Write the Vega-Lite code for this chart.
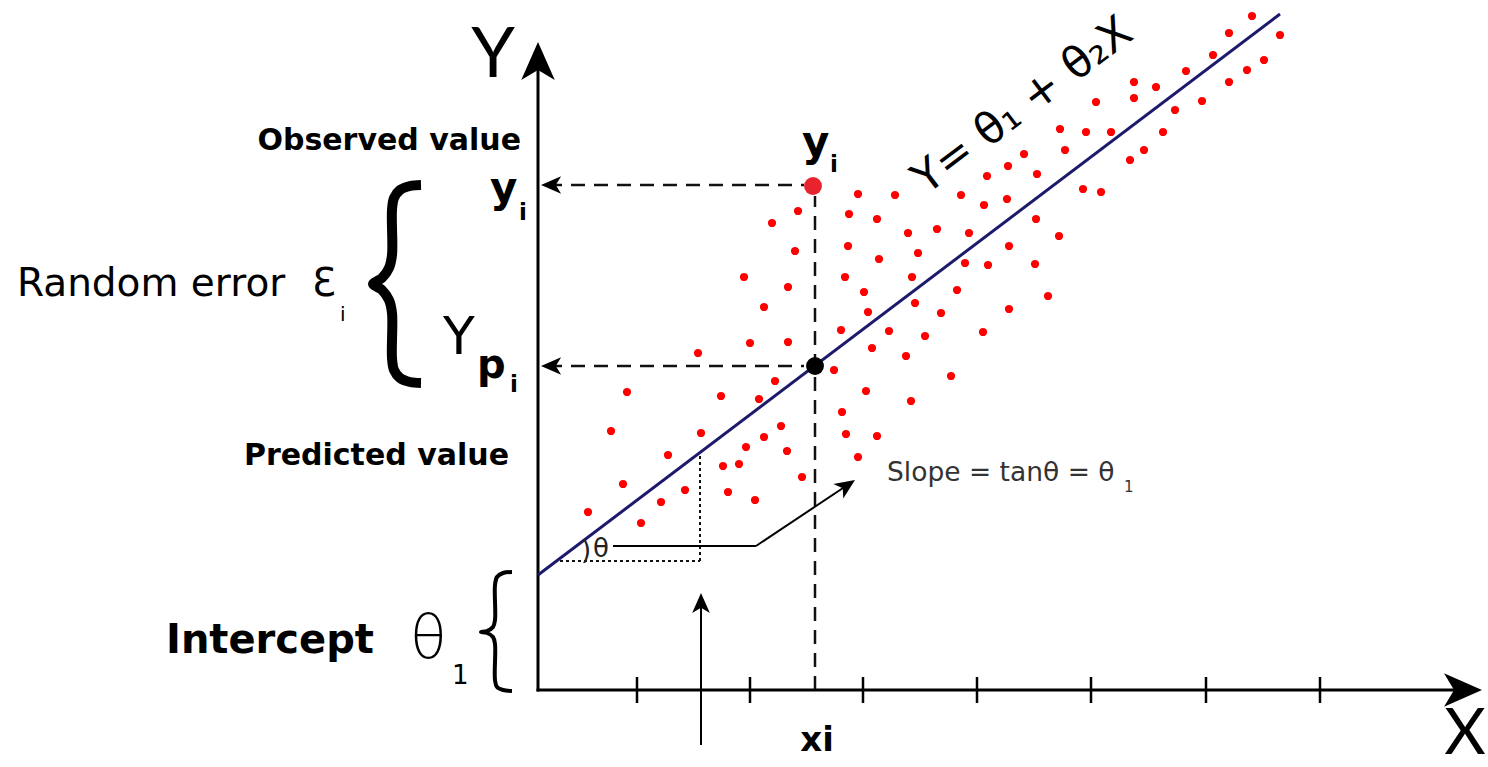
{
  "$schema": "https://vega.github.io/schema/vega-lite/v6.json",
  "width": 1488,
  "height": 767,
  "autosize": {"type": "none"},
  "padding": 0,
  "background": "white",
  "config": {"view": {"stroke": null}},
  "datasets": {
    "dots": [
      {"x":320,"y":496},{"x":357,"y":495},{"x":260,"y":479},{"x":311,"y":476},{"x":339,"y":471},{"x":234,"y":467},{"x":257,"y":439},{"x":310,"y":444},{"x":341,"y":431},{"x":206,"y":413},
      {"x":250,"y":403},{"x":307,"y":413},{"x":326,"y":398},{"x":226,"y":383},{"x":330,"y":378},{"x":303,"y":360},{"x":351,"y":359},{"x":212,"y":347},{"x":250,"y":348},{"x":334,"y":342},
      {"x":160,"y":337},{"x":296,"y":320},{"x":237,"y":309},{"x":89,"y":298},{"x":183,"y":294},{"x":221,"y":291},{"x":328,"y":299},{"x":304,"y":278},{"x":73,"y":259},{"x":163,"y":257},
      {"x":243,"y":264},{"x":308,"y":256},{"x":339,"y":254},{"x":226,"y":253},{"x":208,"y":243},{"x":130,"y":235},{"x":249,"y":239},{"x":320,"y":233},{"x":185,"y":224},{"x":201,"y":226},
      {"x":85,"y":206},{"x":147,"y":200},{"x":264,"y":213},{"x":190,"y":198},{"x":217,"y":190},{"x":50,"y":178},{"x":123,"y":188},{"x":103,"y":167},
      {"x":714,"y":674},{"x":691,"y":657},{"x":742,"y":655},{"x":675,"y":635},{"x":726,"y":630},{"x":709,"y":620},{"x":648,"y":619},{"x":596,"y":608},{"x":618,"y":603},{"x":691,"y":608},
      {"x":596,"y":592},{"x":558,"y":588},{"x":664,"y":589},{"x":637,"y":580},{"x":522,"y":561},{"x":548,"y":558},{"x":573,"y":558},{"x":625,"y":558},{"x":527,"y":540},{"x":606,"y":540},
      {"x":592,"y":530},{"x":545,"y":501},{"x":563,"y":498},{"x":486,"y":536},{"x":470,"y":524},{"x":449,"y":514},{"x":499,"y":516},{"x":423,"y":495},{"x":446,"y":485},{"x":469,"y":491},
      {"x":498,"y":471},{"x":370,"y":457},{"x":399,"y":461},{"x":431,"y":457},{"x":521,"y":454},{"x":380,"y":437},{"x":471,"y":444},{"x":427,"y":427},{"x":450,"y":425},{"x":497,"y":426},
      {"x":374,"y":413},{"x":419,"y":400},{"x":510,"y":394},{"x":377,"y":387},{"x":403,"y":377},{"x":471,"y":381},{"x":387,"y":354},{"x":445,"y":358},{"x":368,"y":334},{"x":413,"y":314},
      {"x":373,"y":289}
    ],
    "keypts": [
      {"x":275,"y":504,"kind":"observed"},
      {"x":277,"y":324,"kind":"predicted"}
    ],
    "fit": [
      {"x":0,"y":115},{"x":742,"y":676}
    ],
    "segs": [
      {"x":0,"y":-1.5,"x2":0,"y2":625,"kind":"axis"},
      {"x":-1.5,"y":0,"x2":925,"y2":0,"kind":"axis"},
      {"x":99,"y":-13,"x2":99,"y2":13,"kind":"tick"},
      {"x":212,"y":-13,"x2":212,"y2":13,"kind":"tick"},
      {"x":325,"y":-13,"x2":325,"y2":13,"kind":"tick"},
      {"x":439,"y":-13,"x2":439,"y2":13,"kind":"tick"},
      {"x":553,"y":-13,"x2":553,"y2":13,"kind":"tick"},
      {"x":668,"y":-13,"x2":668,"y2":13,"kind":"tick"},
      {"x":782,"y":-13,"x2":782,"y2":13,"kind":"tick"},
      {"x":163,"y":-55,"x2":163,"y2":85,"kind":"arrow"},
      {"x":10,"y":505,"x2":266,"y2":505,"kind":"dashed"},
      {"x":10,"y":324,"x2":266,"y2":324,"kind":"dashed"},
      {"x":277,"y":0,"x2":277,"y2":494,"kind":"dashed"},
      {"x":22,"y":129,"x2":162,"y2":129,"kind":"dotted"},
      {"x":162,"y":129,"x2":162,"y2":237,"kind":"dotted"},
      {"x":75,"y":144,"x2":218,"y2":144,"kind":"connector"},
      {"x":218,"y":144,"x2":308,"y2":204,"kind":"connector"}
    ],
    "heads": [
      {"x":0,"y":648,"kind":"bigup"},
      {"x":944,"y":0,"kind":"bigright"},
      {"x":163,"y":97,"kind":"up"},
      {"x":3,"y":505,"kind":"left"},
      {"x":3,"y":324,"kind":"left"},
      {"x":317,"y":210,"kind":"diag"}
    ],
    "braces": [
      {"x":-117,"y":505,"i":1,"brace":"error"},{"x":-128,"y":504,"i":2,"brace":"error"},{"x":-138,"y":500,"i":3,"brace":"error"},{"x":-144,"y":492,"i":4,"brace":"error"},{"x":-146,"y":480,"i":5,"brace":"error"},{"x":-146,"y":435,"i":6,"brace":"error"},{"x":-149,"y":422,"i":7,"brace":"error"},{"x":-156,"y":412,"i":8,"brace":"error"},{"x":-165,"y":406,"i":9,"brace":"error"},{"x":-156,"y":400,"i":10,"brace":"error"},{"x":-149,"y":390,"i":11,"brace":"error"},{"x":-146,"y":377,"i":12,"brace":"error"},{"x":-146,"y":332,"i":13,"brace":"error"},{"x":-144,"y":320,"i":14,"brace":"error"},{"x":-138,"y":312,"i":15,"brace":"error"},{"x":-128,"y":308,"i":16,"brace":"error"},{"x":-117,"y":307,"i":17,"brace":"error"},
      {"x":-26,"y":118,"i":1,"brace":"intercept"},{"x":-35,"y":117,"i":2,"brace":"intercept"},{"x":-41,"y":113,"i":3,"brace":"intercept"},{"x":-43,"y":105,"i":4,"brace":"intercept"},{"x":-43,"y":70,"i":5,"brace":"intercept"},{"x":-45,"y":63,"i":6,"brace":"intercept"},{"x":-51,"y":59,"i":7,"brace":"intercept"},{"x":-57,"y":58,"i":8,"brace":"intercept"},{"x":-51,"y":57,"i":9,"brace":"intercept"},{"x":-45,"y":53,"i":10,"brace":"intercept"},{"x":-43,"y":46,"i":11,"brace":"intercept"},{"x":-43,"y":10,"i":12,"brace":"intercept"},{"x":-41,"y":3,"i":13,"brace":"intercept"},{"x":-35,"y":0,"i":14,"brace":"intercept"},{"x":-26,"y":-1,"i":15,"brace":"intercept"}
    ],
    "labels": [
      {"x":-17,"y":540,"text":"Observed value","kind":"caption"},
      {"x":-29,"y":225,"text":"Predicted value","kind":"caption"},
      {"x":-521,"y":394,"text":"Random error","kind":"random"},
      {"x":-226,"y":394,"text":"Ɛ","kind":"random"},
      {"x":-198,"y":369,"text":"i","kind":"subthin"},
      {"x":-19,"y":470,"text":"i","kind":"subbold"},
      {"x":292,"y":518,"text":"i","kind":"subbold"},
      {"x":-28,"y":298,"text":"i","kind":"subbold"},
      {"x":-372,"y":37,"text":"Intercept","kind":"intercept"},
      {"x":-128,"y":32,"text":"θ","kind":"theta1"},
      {"x":-86,"y":6,"text":"1","kind":"theta1sub"},
      {"x":-45,"y":613,"text":"Y","kind":"axisname"},
      {"x":927,"y":-64,"text":"X","kind":"axisname2"},
      {"x":-48,"y":488,"text":"y","kind":"ybold"},
      {"x":264,"y":534,"text":"y","kind":"ybold"},
      {"x":-95,"y":336,"text":"Y","kind":"Ypred"},
      {"x":-61,"y":312,"text":"p","kind":"p"},
      {"x":279,"y":-61,"text":"xi","kind":"xi"},
      {"x":349,"y":209,"text":"Slope = tanθ = θ","kind":"slope"},
      {"x":586,"y":198,"text":"1","kind":"slopesub"},
      {"x":55,"y":133,"text":"θ","kind":"angle"},
      {"x":43,"y":131,"text":")","kind":"angle"},
      {"x":485,"y":584,"text":"Y= θ₁ + θ₂X","kind":"eq"}
    ]
  },
  "encoding": {
    "x": {"field": "x", "type": "quantitative", "scale": {"domain": [-538, 950], "nice": false, "zero": false}, "axis": null},
    "y": {"field": "y", "type": "quantitative", "scale": {"domain": [-77, 690], "nice": false, "zero": false}, "axis": null}
  },
  "layer": [
    {"data": {"name": "segs"}, "transform": [{"filter": "datum.kind === 'dashed'"}],
     "mark": {"type": "rule", "color": "#111111", "strokeWidth": 2.5, "strokeDash": [14, 9]},
     "encoding": {"x2": {"field": "x2"}, "y2": {"field": "y2"}}},
    {"data": {"name": "segs"}, "transform": [{"filter": "datum.kind === 'dotted'"}],
     "mark": {"type": "rule", "color": "#111111", "strokeWidth": 2, "strokeDash": [3, 3]},
     "encoding": {"x2": {"field": "x2"}, "y2": {"field": "y2"}}},
    {"data": {"name": "segs"}, "transform": [{"filter": "datum.kind === 'connector' || datum.kind === 'arrow'"}],
     "mark": {"type": "rule", "color": "#000000", "strokeWidth": 2},
     "encoding": {"x2": {"field": "x2"}, "y2": {"field": "y2"}}},
    {"data": {"name": "segs"}, "transform": [{"filter": "datum.kind === 'tick'"}],
     "mark": {"type": "rule", "color": "#000000", "strokeWidth": 2.5},
     "encoding": {"x2": {"field": "x2"}, "y2": {"field": "y2"}}},
    {"data": {"name": "segs"}, "transform": [{"filter": "datum.kind === 'axis'"}],
     "mark": {"type": "rule", "color": "#000000", "strokeWidth": 3},
     "encoding": {"x2": {"field": "x2"}, "y2": {"field": "y2"}}},
    {"data": {"name": "fit"},
     "mark": {"type": "line", "color": "#1d1a6c", "strokeWidth": 3}},
    {"data": {"name": "dots"},
     "mark": {"type": "point", "filled": true, "color": "#ff0000", "opacity": 1, "size": 68, "strokeWidth": 0}},
    {"data": {"name": "keypts"}, "transform": [{"filter": "datum.kind === 'observed'"}],
     "mark": {"type": "point", "filled": true, "color": "#e8232d", "opacity": 1, "size": 320, "strokeWidth": 0}},
    {"data": {"name": "keypts"}, "transform": [{"filter": "datum.kind === 'predicted'"}],
     "mark": {"type": "point", "filled": true, "color": "#000000", "opacity": 1, "size": 320, "strokeWidth": 0}},
    {"data": {"name": "heads"}, "transform": [{"filter": "datum.kind === 'bigup'"}],
     "mark": {"type": "point", "shape": "M0,0 L0.75,1.7 L0,1.25 L-0.75,1.7 Z", "filled": true, "color": "#000000", "opacity": 1, "size": 2000, "angle": 0, "strokeWidth": 0}},
    {"data": {"name": "heads"}, "transform": [{"filter": "datum.kind === 'bigright'"}],
     "mark": {"type": "point", "shape": "M0,0 L0.75,1.7 L0,1.25 L-0.75,1.7 Z", "filled": true, "color": "#000000", "opacity": 1, "size": 2000, "angle": 90, "strokeWidth": 0}},
    {"data": {"name": "heads"}, "transform": [{"filter": "datum.kind === 'up'"}],
     "mark": {"type": "point", "shape": "M0,0 L0.75,1.7 L0,1.25 L-0.75,1.7 Z", "filled": true, "color": "#000000", "opacity": 1, "size": 560, "angle": 0, "strokeWidth": 0}},
    {"data": {"name": "heads"}, "transform": [{"filter": "datum.kind === 'left'"}],
     "mark": {"type": "point", "shape": "M0,0 L0.75,1.7 L0,1.25 L-0.75,1.7 Z", "filled": true, "color": "#000000", "opacity": 1, "size": 560, "angle": 270, "strokeWidth": 0}},
    {"data": {"name": "heads"}, "transform": [{"filter": "datum.kind === 'diag'"}],
     "mark": {"type": "point", "shape": "M0,0 L0.75,1.7 L0,1.25 L-0.75,1.7 Z", "filled": true, "color": "#000000", "opacity": 1, "size": 560, "angle": 56, "strokeWidth": 0}},
    {"data": {"name": "braces"}, "transform": [{"filter": "datum.brace === 'error'"}],
     "mark": {"type": "line", "color": "#000000", "strokeWidth": 10, "interpolate": "catmull-rom", "strokeCap": "butt", "strokeJoin": "round"},
     "encoding": {"order": {"field": "i", "type": "quantitative"}}},
    {"data": {"name": "braces"}, "transform": [{"filter": "datum.brace === 'intercept'"}],
     "mark": {"type": "line", "color": "#000000", "strokeWidth": 4, "interpolate": "catmull-rom", "strokeCap": "butt", "strokeJoin": "round"},
     "encoding": {"order": {"field": "i", "type": "quantitative"}}},
    {"data": {"name": "labels"}, "transform": [{"filter": "datum.kind === 'caption'"}],
     "mark": {"type": "text", "font": "DejaVu Sans", "fontSize": 30, "fontWeight": "bold", "align": "right", "baseline": "alphabetic", "color": "#000000"},
     "encoding": {"text": {"field": "text"}}},
    {"data": {"name": "labels"}, "transform": [{"filter": "datum.kind === 'random'"}],
     "mark": {"type": "text", "font": "DejaVu Sans", "fontSize": 39, "fontWeight": 400, "align": "left", "baseline": "alphabetic", "color": "#000000"},
     "encoding": {"text": {"field": "text"}}},
    {"data": {"name": "labels"}, "transform": [{"filter": "datum.kind === 'subthin'"}],
     "mark": {"type": "text", "font": "DejaVu Sans", "fontSize": 20, "fontWeight": 400, "align": "left", "baseline": "alphabetic", "color": "#000000"},
     "encoding": {"text": {"field": "text"}}},
    {"data": {"name": "labels"}, "transform": [{"filter": "datum.kind === 'subbold'"}],
     "mark": {"type": "text", "font": "DejaVu Sans", "fontSize": 23, "fontWeight": "bold", "align": "left", "baseline": "alphabetic", "color": "#000000"},
     "encoding": {"text": {"field": "text"}}},
    {"data": {"name": "labels"}, "transform": [{"filter": "datum.kind === 'intercept'"}],
     "mark": {"type": "text", "font": "DejaVu Sans", "fontSize": 40, "fontWeight": "bold", "align": "left", "baseline": "alphabetic", "color": "#000000"},
     "encoding": {"text": {"field": "text"}}},
    {"data": {"name": "labels"}, "transform": [{"filter": "datum.kind === 'theta1'"}],
     "mark": {"type": "text", "font": "DejaVu Sans", "fontSize": 60, "fontWeight": 300, "align": "left", "baseline": "alphabetic", "color": "#000000"},
     "encoding": {"text": {"field": "text"}}},
    {"data": {"name": "labels"}, "transform": [{"filter": "datum.kind === 'theta1sub'"}],
     "mark": {"type": "text", "font": "DejaVu Sans", "fontSize": 26, "fontWeight": 400, "align": "left", "baseline": "alphabetic", "color": "#000000"},
     "encoding": {"text": {"field": "text"}}},
    {"data": {"name": "labels"}, "transform": [{"filter": "datum.kind === 'axisname'"}],
     "mark": {"type": "text", "font": "Lato", "fontSize": 70, "fontWeight": 400, "align": "center", "baseline": "alphabetic", "color": "#000000"},
     "encoding": {"text": {"field": "text"}}},
    {"data": {"name": "labels"}, "transform": [{"filter": "datum.kind === 'axisname2'"}],
     "mark": {"type": "text", "font": "Lato", "fontSize": 64, "fontWeight": 400, "align": "center", "baseline": "alphabetic", "color": "#000000"},
     "encoding": {"text": {"field": "text"}}},
    {"data": {"name": "labels"}, "transform": [{"filter": "datum.kind === 'ybold'"}],
     "mark": {"type": "text", "font": "DejaVu Sans", "fontSize": 42, "fontWeight": "bold", "align": "left", "baseline": "alphabetic", "color": "#000000"},
     "encoding": {"text": {"field": "text"}}},
    {"data": {"name": "labels"}, "transform": [{"filter": "datum.kind === 'Ypred'"}],
     "mark": {"type": "text", "font": "DejaVu Sans", "fontSize": 52, "fontWeight": 400, "align": "left", "baseline": "alphabetic", "color": "#000000"},
     "encoding": {"text": {"field": "text"}}},
    {"data": {"name": "labels"}, "transform": [{"filter": "datum.kind === 'p'"}],
     "mark": {"type": "text", "font": "DejaVu Sans", "fontSize": 40, "fontWeight": "bold", "align": "left", "baseline": "alphabetic", "color": "#000000"},
     "encoding": {"text": {"field": "text"}}},
    {"data": {"name": "labels"}, "transform": [{"filter": "datum.kind === 'xi'"}],
     "mark": {"type": "text", "font": "DejaVu Sans", "fontSize": 34, "fontWeight": "bold", "align": "center", "baseline": "alphabetic", "color": "#000000"},
     "encoding": {"text": {"field": "text"}}},
    {"data": {"name": "labels"}, "transform": [{"filter": "datum.kind === 'slope'"}],
     "mark": {"type": "text", "font": "DejaVu Sans", "fontSize": 26.5, "fontWeight": 400, "align": "left", "baseline": "alphabetic", "color": "#333333"},
     "encoding": {"text": {"field": "text"}}},
    {"data": {"name": "labels"}, "transform": [{"filter": "datum.kind === 'slopesub'"}],
     "mark": {"type": "text", "font": "DejaVu Sans", "fontSize": 15, "fontWeight": 400, "align": "left", "baseline": "alphabetic", "color": "#333333"},
     "encoding": {"text": {"field": "text"}}},
    {"data": {"name": "labels"}, "transform": [{"filter": "datum.kind === 'angle'"}],
     "mark": {"type": "text", "font": "DejaVu Sans", "fontSize": 26, "fontWeight": 400, "align": "left", "baseline": "alphabetic", "color": "#222222"},
     "encoding": {"text": {"field": "text"}}},
    {"data": {"name": "labels"}, "transform": [{"filter": "datum.kind === 'eq'"}],
     "mark": {"type": "text", "font": "DejaVu Sans", "fontSize": 44, "fontWeight": 400, "align": "center", "baseline": "middle", "angle": 323, "color": "#000000"},
     "encoding": {"text": {"field": "text"}}}
  ]
}
